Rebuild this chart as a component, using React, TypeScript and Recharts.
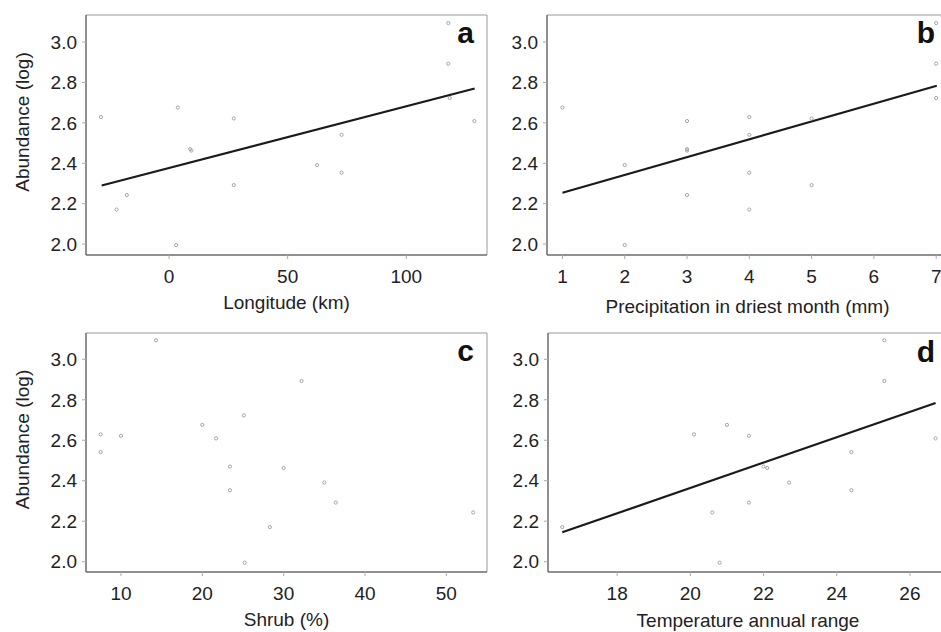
import React from "react"
import { ScatterChart, Scatter, XAxis, YAxis, ReferenceLine, ReferenceArea, Label } from "recharts"

// 16 sampling sites, one value per site in each array
const abundance = [2.629, 2.171, 2.243, 1.995, 2.676, 2.47, 2.463, 2.622, 2.292, 2.391, 2.541, 2.353, 3.094, 2.893, 2.723, 2.609]
const longitude = [-28.7, -22.1, -17.8, 3.0, 3.7, 8.9, 9.4, 27.3, 27.3, 62.4, 72.7, 72.7, 117.7, 117.7, 118.3, 128.7]
const precipitation = [4, 4, 3, 2, 1, 3, 3, 5, 5, 2, 4, 4, 7, 7, 7, 3]
const shrub = [7.5, 28.3, 53.3, 25.2, 20.0, 23.4, 30.0, 10.0, 36.4, 35.0, 7.5, 23.4, 14.3, 32.2, 25.1, 21.7]
const tempRange = [20.1, 16.5, 20.6, 20.8, 21.0, 22.0, 22.1, 21.6, 21.6, 22.7, 24.4, 24.4, 25.3, 25.3, 27.0, 26.7]

// fitted regression lines (end points)
const fitLongitude = [{ x: -28.4, y: 2.29 }, { x: 128.8, y: 2.77 }]
const fitPrecipitation = [{ x: 1, y: 2.254 }, { x: 7.01, y: 2.784 }]
const fitTemperature = [{ x: 16.5, y: 2.145 }, { x: 26.7, y: 2.784 }]

const yTicks = [2.0, 2.2, 2.4, 2.6, 2.8, 3.0]
const longitudeTicks = [0, 50, 100]
const precipitationTicks = [1, 2, 3, 4, 5, 6, 7]
const shrubTicks = [10, 20, 30, 40, 50]
const temperatureTicks = [18, 20, 22, 24, 26]

const font = "Arial, 'Liberation Sans', sans-serif"
const textColor = "#222"

const toPoints = (xs: number[]) => xs.map((x, i) => ({ x, y: abundance[i] }))

const Dot = (p: any) => <circle cx={p.cx} cy={p.cy} r={1.6} fill="none" stroke="#a5a5a5" strokeWidth={1} />

const YTitle = (props: any) => {
  const vb = props.viewBox
  const cx = vb.x + 22
  const cy = vb.y + vb.height / 2 - 13
  return (
    <text
      x={cx}
      y={cy}
      transform={`rotate(-90 ${cx} ${cy})`}
      textAnchor="middle"
      dominantBaseline="central"
      fill={textColor}
      fontSize={19}
      fontFamily={font}
    >
      Abundance (log)
    </text>
  )
}

type PanelProps = {
  left: number
  top: number
  width: number
  height: number
  yAxisWidth: number
  xAxisHeight: number
  rightMargin: number
  xDomain: [number, number]
  yDomain: [number, number]
  xTicks: number[]
  xs: number[]
  fit?: { x: number; y: number }[]
  xTitle: string
  titleOffset: number
  showYTitle: boolean
}

function Panel(props: PanelProps) {
  const tick = { fill: textColor, fontSize: 19, fontFamily: font }
  return (
    <div style={{ position: "absolute", left: props.left, top: props.top }}>
      <ScatterChart
        width={props.width}
        height={props.height}
        margin={{ top: 15, right: props.rightMargin, bottom: 0, left: 0 }}
      >
        <XAxis
          type="number"
          dataKey="x"
          domain={props.xDomain}
          allowDataOverflow
          ticks={props.xTicks}
          height={props.xAxisHeight}
          tick={tick}
          tickSize={4}
          tickMargin={11}
          axisLine={{ stroke: "#555" }}
          tickLine={{ stroke: "#aaa" }}
        >
          <Label
            value={props.xTitle}
            position="insideBottom"
            offset={props.titleOffset}
            fill={textColor}
            fontSize={19}
            fontFamily={font}
          />
        </XAxis>
        <YAxis
          type="number"
          dataKey="y"
          domain={props.yDomain}
          allowDataOverflow
          ticks={yTicks}
          tickFormatter={(v: number) => v.toFixed(1)}
          width={props.yAxisWidth}
          tick={tick}
          tickSize={4}
          tickMargin={5}
          axisLine={{ stroke: "#555" }}
          tickLine={{ stroke: "#aaa" }}
        >
          {props.showYTitle && <Label content={<YTitle />} />}
        </YAxis>
        <ReferenceArea
          x1={props.xDomain[0]}
          x2={props.xDomain[1]}
          y1={props.yDomain[0]}
          y2={props.yDomain[1]}
          fill="none"
          fillOpacity={0}
          stroke="#999"
          strokeWidth={1}
          ifOverflow="visible"
        />
        <Scatter data={toPoints(props.xs)} shape={Dot} isAnimationActive={false} />
        {props.fit && (
          <ReferenceLine
            segment={props.fit}
            stroke="#1a1a1a"
            strokeWidth={2.2}
            ifOverflow="visible"
          />
        )}
      </ScatterChart>
    </div>
  )
}

const letters = [
  { t: "a", x: 474, y: 43 },
  { t: "b", x: 935, y: 43 },
  { t: "c", x: 474, y: 361 },
  { t: "d", x: 935, y: 362 },
]

export default function App() {
  return (
    <div
      style={{
        position: "absolute",
        left: 0,
        top: 0,
        width: 941,
        height: 632,
        overflow: "hidden",
        background: "#fff",
      }}
    >
      <Panel
        left={0}
        top={0}
        width={490}
        height={320}
        yAxisWidth={86}
        xAxisHeight={65}
        rightMargin={3}
        xDomain={[-35, 134]}
        yDomain={[1.946, 3.134]}
        xTicks={longitudeTicks}
        xs={longitude}
        fit={fitLongitude}
        xTitle="Longitude (km)"
        titleOffset={11}
        showYTitle
      />
      <Panel
        left={490}
        top={0}
        width={470}
        height={320}
        yAxisWidth={57}
        xAxisHeight={65}
        rightMargin={12}
        xDomain={[0.752, 7.19]}
        yDomain={[1.946, 3.134]}
        xTicks={precipitationTicks}
        xs={precipitation}
        fit={fitPrecipitation}
        xTitle="Precipitation in driest month (mm)"
        titleOffset={7}
        showYTitle={false}
      />
      <Panel
        left={0}
        top={318}
        width={490}
        height={314}
        yAxisWidth={86}
        xAxisHeight={60}
        rightMargin={3}
        xDomain={[5.7, 55.0]}
        yDomain={[1.949, 3.13]}
        xTicks={shrubTicks}
        xs={shrub}
        xTitle="Shrub (%)"
        titleOffset={6}
        showYTitle
      />
      <Panel
        left={490}
        top={318}
        width={470}
        height={314}
        yAxisWidth={58}
        xAxisHeight={60}
        rightMargin={12}
        xDomain={[16.11, 27.04]}
        yDomain={[1.949, 3.13]}
        xTicks={temperatureTicks}
        xs={tempRange}
        fit={fitTemperature}
        xTitle="Temperature annual range"
        titleOffset={5}
        showYTitle={false}
      />
      <svg
        width={941}
        height={632}
        style={{ position: "absolute", left: 0, top: 0, pointerEvents: "none" }}
      >
        {letters.map((l) => (
          <text
            key={l.t}
            x={l.x}
            y={l.y}
            textAnchor="end"
            fontSize={30}
            fontWeight="bold"
            fontFamily={font}
            fill="#111"
          >
            {l.t}
          </text>
        ))}
      </svg>
    </div>
  )
}
